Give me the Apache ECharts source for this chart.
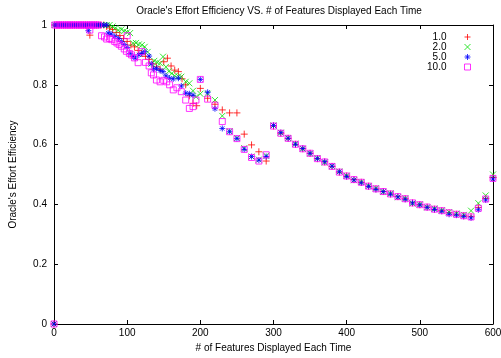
<!DOCTYPE html>
<html>
<head>
<meta charset="utf-8">
<script src="https://cdn.jsdelivr.net/npm/echarts@6/dist/echarts.min.js"></script>
<style>
  html, body { margin: 0; padding: 0; background: #fff; }
  #chart { width: 501px; height: 358px; }
  #err { position: absolute; left: 60px; top: 120px; width: 420px; font: 11px monospace; color: #c00; white-space: pre-wrap; }
</style>
</head>
<body>
<div id="chart"></div>
<div id="err"></div>
<script>
// flat part at the top, where every run stays at 1
const flatX = [1, 4, 7, 10, 13, 16, 19, 22, 25, 28, 31, 34, 37, 40, 43, 46, 49, 52, 55, 58, 61];
const tailX = [300, 310, 320, 330, 340, 350, 360, 370, 380, 390, 400, 410, 420, 430, 440, 450,
               460, 470, 480, 490, 500, 510, 520, 530, 540, 550, 560, 570, 580, 590, 600];

// 1.0
const redX = [64, 68, 72, 76, 49, 80, 85, 90, 95, 100, 105, 110, 115, 120, 125, 130, 135, 140, 145,
              150, 155, 160, 165, 170, 175, 180, 185, 190, 195, 200, 210, 220, 230, 240, 250, 260, 270, 280, 290];
const redY = [1, 1, 0.995, 0.99, 0.966, 0.985, 0.975, 0.965, 0.955, 0.945, 0.933, 0.927, 0.915, 0.905, 0.895,
              0.885, 0.87, 0.86, 0.852, 0.877, 0.889, 0.863, 0.849, 0.844, 0.82, 0.8, 0.763, 0.738, 0.73, 0.788,
              0.755, 0.735, 0.716, 0.706, 0.706, 0.635, 0.599, 0.576, 0.545];
const redTail = [0.662, 0.638, 0.621, 0.601, 0.586, 0.571, 0.553, 0.542, 0.527, 0.508, 0.495, 0.483, 0.474,
                 0.461, 0.452, 0.443, 0.435, 0.426, 0.419, 0.405, 0.399, 0.391, 0.384, 0.379, 0.372, 0.367,
                 0.362, 0.36, 0.39, 0.42, 0.49];

// 2.0
const greenX = [64, 68, 72, 76, 80, 84, 88, 92, 96, 100, 104, 108, 112, 116, 120, 124, 128, 133, 137, 141,
                145, 149, 153, 157, 161, 165, 170, 174, 180, 185, 190, 194, 200, 210, 220, 230, 240, 250, 260, 270, 280, 290];
const greenY = [1, 1, 1, 1, 0.995, 0.99, 0.983, 0.985, 0.98, 0.976, 0.973, 0.939, 0.94, 0.935, 0.933, 0.927,
                0.91, 0.87, 0.88, 0.875, 0.872, 0.894, 0.86, 0.845, 0.838, 0.83, 0.828, 0.827, 0.81, 0.805,
                0.78, 0.76, 0.77, 0.77, 0.749, 0.696, 0.645, 0.622, 0.588, 0.56, 0.55, 0.563];
const greenTail = [0.664, 0.64, 0.622, 0.603, 0.586, 0.57, 0.555, 0.54, 0.528, 0.51, 0.496, 0.481, 0.475,
                   0.462, 0.454, 0.442, 0.437, 0.424, 0.42, 0.403, 0.4, 0.39, 0.386, 0.38, 0.374, 0.369,
                   0.365, 0.379, 0.404, 0.43, 0.5];

// 5.0
const blueX = [64, 68, 72, 47, 74, 78, 83, 88, 92, 96, 100, 104, 108, 111, 116, 120, 124, 130, 133, 136,
               140, 145, 149, 153, 158, 163, 170, 174, 180, 185, 190, 200, 210, 220, 230, 240, 250, 260, 270, 280, 290];
const blueY = [1, 1, 1, 0.981, 0.973, 0.97, 0.962, 0.955, 0.945, 0.935, 0.925, 0.905, 0.895, 0.889, 0.9,
               0.905, 0.911, 0.896, 0.87, 0.852, 0.855, 0.848, 0.844, 0.83, 0.822, 0.82, 0.822, 0.796, 0.772,
               0.77, 0.765, 0.818, 0.775, 0.72, 0.654, 0.643, 0.62, 0.584, 0.56, 0.548, 0.56];
const blueTail = [0.664, 0.64, 0.621, 0.601, 0.587, 0.571, 0.553, 0.543, 0.528, 0.509, 0.493, 0.482, 0.472,
                  0.46, 0.45, 0.443, 0.434, 0.425, 0.417, 0.405, 0.398, 0.39, 0.383, 0.377, 0.367, 0.364,
                  0.36, 0.355, 0.382, 0.415, 0.485];

// 10.0
const magentaX = [49, 65, 69, 72, 76, 79, 83, 86, 89, 92, 96, 99, 100, 103, 106, 110, 115, 120, 125, 130,
                  133, 136, 140, 145, 150, 154, 158, 163, 168, 174, 180, 185, 190, 194, 200, 210, 220, 230,
                  240, 250, 260, 270, 280, 290];
const magentaY = [0.983, 0.964, 0.96, 0.953, 0.955, 0.951, 0.945, 0.94, 0.935, 0.929, 0.92, 0.912, 0.964,
                  0.905, 0.9, 0.89, 0.874, 0.911, 0.875, 0.863, 0.84, 0.833, 0.816, 0.81, 0.815, 0.81, 0.8,
                  0.783, 0.79, 0.777, 0.749, 0.721, 0.727, 0.749, 0.818, 0.752, 0.732, 0.677, 0.643, 0.62,
                  0.584, 0.557, 0.545, 0.566];
const magentaTail = [0.662, 0.638, 0.621, 0.601, 0.586, 0.571, 0.553, 0.542, 0.527, 0.508, 0.495, 0.483, 0.474,
                     0.461, 0.452, 0.443, 0.435, 0.426, 0.419, 0.405, 0.399, 0.391, 0.384, 0.379, 0.372, 0.367,
                     0.362, 0.358, 0.387, 0.418, 0.487];

const xTicks = [0, 100, 200, 300, 400, 500, 600];
const yTicks = [0, 0.2, 0.4, 0.6, 0.8, 1];

function pts(xs, ys, tx, ty) {
    const out = [[0, 0]];
    flatX.forEach(function (x) { out.push([x, 1]); });
    xs.forEach(function (x, i) { out.push([x, ys[i]]); });
    tx.forEach(function (x, i) { out.push([x, ty[i]]); });
    return out;
}

const PLUS = 'path://M5,0L5,10M0,5L10,5';
const CROSS = 'path://M0,0L10,10M10,0L0,10';
const STAR = 'path://M5,0L5,10M0,5L10,5M1.5,1.5L8.5,8.5M8.5,1.5L1.5,8.5';
const SQUARE = 'path://M0,0L10,0L10,10L0,10Z';

const font = 'Liberation Sans';
const errBox = document.getElementById('err');
function report(tag, e) {
    errBox.textContent += tag + ': ' + (e && e.message) + '\n' + String(e && e.stack).split('\n').slice(0, 3).join('\n') + '\n';
}
window.addEventListener('error', function (ev) { report('window', ev.error || { message: ev.message }); });

let myChart = echarts.init(document.getElementById('chart'));

function mkSeries(name, sym, size, color, data) {
    return {
        name: name,
        type: 'scatter',
        symbol: sym,
        symbolSize: size,
        symbolKeepAspect: true,
        itemStyle: { color: 'transparent', borderColor: color, borderWidth: 1 },
        emphasis: { disabled: true },
        animation: false,
        data: data
    };
}

// top and right copies of the axes: frame + inward ticks, no labels
function mirror(pos, max, interval) {
    return {
        type: 'value', min: 0, max: max, interval: interval, position: pos,
        axisLine: { show: true, onZero: false, lineStyle: { color: '#000', width: 1 } },
        axisTick: { show: true, inside: true, length: 4, lineStyle: { color: '#000' } },
        axisLabel: { show: false },
        splitLine: { show: false }
    };
}

let option = {
    animation: false,
    title: {
        text: "Oracle's Effort Efficiency VS. # of Features Displayed Each Time",
        left: 274,
        textAlign: 'center',
        top: 1,
        textStyle: { fontFamily: font, fontSize: 10, fontWeight: 'normal', color: '#000' }
    },
    legend: {
        orient: 'vertical',
        right: 25,
        top: 27,
        align: 'right',
        itemWidth: 32,
        itemHeight: 6,
        itemGap: 0,
        itemStyle: { color: 'transparent', borderWidth: 1 },
        textStyle: { fontFamily: font, fontSize: 10, lineHeight: 10, color: '#000' },
        data: ['1.0', '2.0', '5.0', '10.0']
    },
    grid: { left: 54, right: 8, top: 25, bottom: 34, outerBoundsMode: 'none' },
    xAxis: [
        {
            type: 'value', min: 0, max: 600, interval: 100,
            name: '# of Features Displayed Each Time',
            nameLocation: 'middle', nameGap: 19,
            nameTextStyle: { fontFamily: font, fontSize: 10, color: '#000' },
            axisLine: { onZero: false, lineStyle: { color: '#000', width: 1 } },
            axisTick: { inside: true, length: 4, lineStyle: { color: '#000' } },
            axisLabel: {
                fontFamily: font, fontSize: 10, color: '#000', margin: 4,
                formatter: function (v) { return xTicks.indexOf(v) >= 0 ? String(v) : ''; }
            },
            splitLine: { show: false }
        },
        mirror('top', 600, 100)
    ],
    yAxis: [
        {
            type: 'value', min: 0, max: 1, interval: 0.2,
            name: "Oracle's Effort Efficiency",
            nameLocation: 'middle', nameGap: 36, nameRotate: 90,
            nameTextStyle: { fontFamily: font, fontSize: 10, color: '#000' },
            axisLine: { show: true, onZero: false, lineStyle: { color: '#000', width: 1 } },
            axisTick: { show: true, inside: true, length: 4, lineStyle: { color: '#000' } },
            axisLabel: {
                fontFamily: font, fontSize: 10, color: '#000', margin: 7,
                formatter: function (v) {
                    let t = yTicks.find(function (k) { return Math.abs(k - v) < 1e-6; });
                    return t === undefined ? '' : String(t);
                }
            },
            splitLine: { show: false }
        },
        mirror('right', 1, 0.2)
    ],
    series: [
        mkSeries('1.0', PLUS, 7, '#ff0000', pts(redX, redY, tailX, redTail)),
        mkSeries('2.0', CROSS, 6, '#00e000', pts(greenX, greenY, tailX, greenTail)),
        mkSeries('5.0', STAR, 6, '#0000ff', pts(blueX, blueY, tailX, blueTail)),
        mkSeries('10.0', SQUARE, 6, '#ff00ff', pts(magentaX, magentaY, tailX, magentaTail))
    ]
};
try {
    myChart.setOption(option);
} catch (e) {
    report('setOption', e);
}
</script>
</body>
</html>
